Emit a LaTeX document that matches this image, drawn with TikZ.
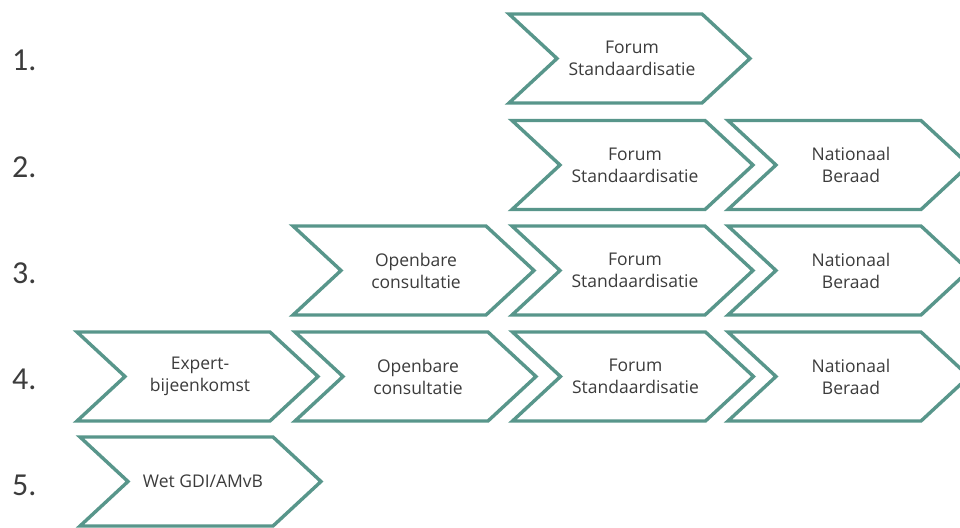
\documentclass[tikz,border=0pt]{standalone}
\usepackage{fontspec}
\setmainfont{Open Sans}
\newfontfamily\numfont{Carlito}
\begin{document}
\begin{tikzpicture}[x=1pt,y=-1pt,
  chev/.style={line width=3.4pt, draw=chevcol, fill=white, line join=miter},
  steplabel/.style={align=center, text=labelcol, font=\fontsize{17.5}{22}\selectfont, inner sep=0pt},
  rownum/.style={anchor=west, text=labelcol, font=\numfont\fontsize{32}{32}\selectfont, inner sep=0pt},
  pics/chevron/.style={code={
    \draw[chev] (-120.5,-44.5) -- (72.5,-44.5) -- (120.5,0) -- (72.5,44.5)
      -- (-120.5,44.5) -- (-72.5,0) -- cycle;
  }}]
\definecolor{chevcol}{RGB}{88,150,139}
\definecolor{labelcol}{RGB}{60,60,60}
\useasboundingbox (0,0) rectangle (960,527);
\clip (0,0) rectangle (960,527);

% row numbers
\node[rownum] (n1) at (12,60) {1.};
\node[rownum] (n2) at (12,167) {2.};
\node[rownum] (n3) at (12,273) {3.};
\node[rownum] (n4) at (12,379) {4.};
\node[rownum] (n5) at (12,485) {5.};

% row 1
\pic at (629.5,58.5) {chevron};
\node[steplabel] (r1forum) at (632,58.5) {Forum\\Standaardisatie};

% row 2
\pic at (632.5,165) {chevron};
\node[steplabel] (r2forum) at (635,165) {Forum\\Standaardisatie};
\pic at (848.5,165) {chevron};
\node[steplabel] (r2nat) at (851,165) {Nationaal\\Beraad};

% row 3
\pic at (413.5,270.5) {chevron};
\node[steplabel] (r3open) at (416,270.5) {Openbare\\consultatie};
\pic at (632.5,270.5) {chevron};
\node[steplabel] (r3forum) at (635,270.5) {Forum\\Standaardisatie};
\pic at (848.5,270.5) {chevron};
\node[steplabel] (r3nat) at (851,270.5) {Nationaal\\Beraad};

% row 4
\pic at (197.5,376.5) {chevron};
\node[steplabel] (r4expert) at (200,376.5) {Expert-\\bijeenkomst};
\pic at (415.5,376.5) {chevron};
\node[steplabel] (r4open) at (418,376.5) {Openbare\\consultatie};
\pic at (633,376.5) {chevron};
\node[steplabel] (r4forum) at (635.5,376.5) {Forum\\Standaardisatie};
\pic at (848.5,376.5) {chevron};
\node[steplabel] (r4nat) at (851,376.5) {Nationaal\\Beraad};

% row 5
\pic at (200.5,481.5) {chevron};
\node[steplabel] (r5wet) at (203,481.5) {Wet GDI/AMvB};
\end{tikzpicture}
\end{document}
